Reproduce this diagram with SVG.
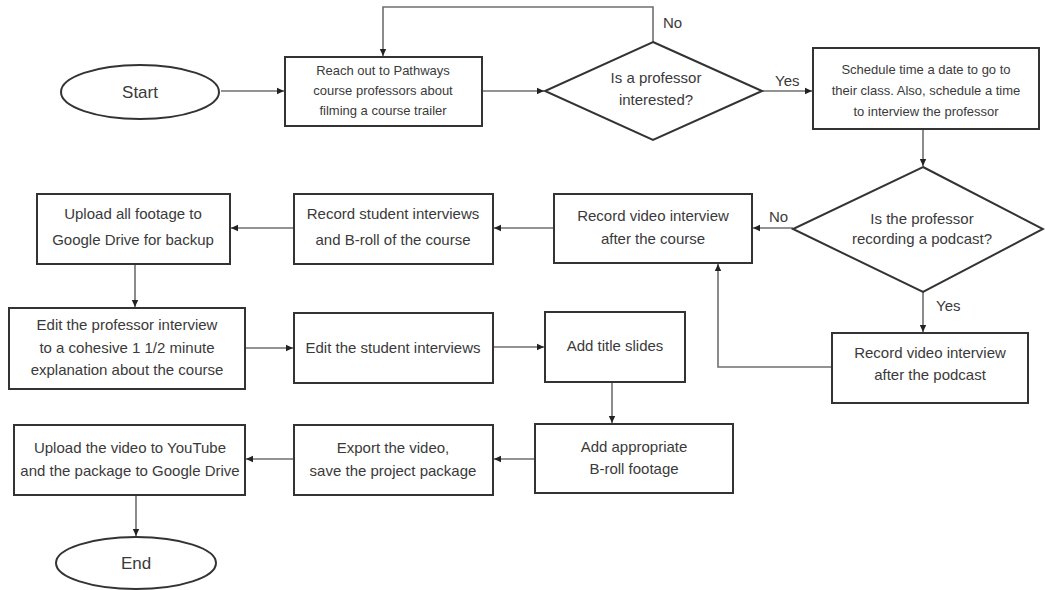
<svg xmlns="http://www.w3.org/2000/svg" width="1045" height="590" viewBox="0 0 1045 590">
<style>
.box{fill:#fff;stroke:#333;stroke-width:2}
.t{font-family:"Liberation Sans",Arial,sans-serif;font-size:15px;fill:#3a3a3a;text-anchor:middle}
.s{font-size:13px}
.lbl{font-family:"Liberation Sans",Arial,sans-serif;font-size:15px;fill:#3a3a3a}
.c{fill:none;stroke:#6f6f6f;stroke-width:1.6;marker-end:url(#ah)}
</style>
<defs>
<marker id="ah" markerUnits="userSpaceOnUse" markerWidth="8" markerHeight="8" refX="7" refY="4" orient="auto">
<path d="M0,0.8 L7,4 L0,7.2 Z" fill="#222"/>
</marker>
</defs>
<rect width="1045" height="590" fill="#fff"/>
<g id="connectors">
<path class="c" d="M221,91 H284"/>
<path class="c" d="M482,91 H544"/>
<path class="c" d="M762,91 H812"/>
<path class="c" d="M653,42 V7 H383 V56"/>
<path class="c" d="M923,129 V166"/>
<path class="c" d="M793,228 H753"/>
<path class="c" d="M923,292 V332"/>
<path class="c" d="M832,367 H718 V264"/>
<path class="c" d="M554,228 H494"/>
<path class="c" d="M294,228 H231"/>
<path class="c" d="M135,264 V307"/>
<path class="c" d="M245,348 H293"/>
<path class="c" d="M493,347 H544"/>
<path class="c" d="M612,382 V423"/>
<path class="c" d="M535,459 H494"/>
<path class="c" d="M294,459 H246"/>
<path class="c" d="M136,495 V536"/>
<text class="lbl" x="663" y="28">No</text>
<text class="lbl" x="775" y="86">Yes</text>
<text class="lbl" x="769" y="222">No</text>
<text class="lbl" x="936" y="311">Yes</text>
</g>
<g id="start">
<ellipse class="box" cx="140" cy="92" rx="79" ry="27"/>
<text class="t" x="140" y="98" style="font-size:17px">Start</text>
</g>
<g id="reach">
<rect class="box" x="285" y="57" width="197" height="69"/>
<text class="t s" x="383" y="74.5">Reach out to Pathways</text>
<text class="t s" x="383" y="94.5">course professors about</text>
<text class="t s" x="383" y="114.5">filming a course trailer</text>
</g>
<g id="decision1">
<polygon class="box" points="653,42 762,91 653,140 545,91"/>
<text class="t" x="656" y="83">Is a professor</text>
<text class="t" x="656" y="105">interested?</text>
</g>
<g id="schedule">
<rect class="box" x="813" y="48" width="226" height="81"/>
<text class="t s" x="926" y="73.5">Schedule time a date to go to</text>
<text class="t s" x="926" y="94.5">their class. Also, schedule a time</text>
<text class="t s" x="926" y="115.5">to interview the professor</text>
</g>
<g id="decision2">
<polygon class="box" points="923,167 1043,229 923,292 793,229"/>
<text class="t" x="922" y="223.5">Is the professor</text>
<text class="t" x="922" y="243.5">recording a podcast?</text>
</g>
<g id="after-course">
<rect class="box" x="554" y="194" width="198" height="69"/>
<text class="t" x="653" y="221">Record video interview</text>
<text class="t" x="653" y="244">after the course</text>
</g>
<g id="after-podcast">
<rect class="box" x="832" y="333" width="196" height="70"/>
<text class="t" x="930" y="358">Record video interview</text>
<text class="t" x="930" y="380">after the podcast</text>
</g>
<g id="student">
<rect class="box" x="294" y="194" width="199" height="70"/>
<text class="t" x="393" y="219">Record student interviews</text>
<text class="t" x="393" y="245">and B-roll of the course</text>
</g>
<g id="upload-footage">
<rect class="box" x="37" y="194" width="193" height="70"/>
<text class="t" x="133" y="219">Upload all footage to</text>
<text class="t" x="133" y="245">Google Drive for backup</text>
</g>
<g id="edit-prof">
<rect class="box" x="9" y="308" width="236" height="81"/>
<text class="t" x="127" y="330">Edit the professor interview</text>
<text class="t" x="127" y="353">to a cohesive 1 1/2 minute</text>
<text class="t" x="127" y="375">explanation about the course</text>
</g>
<g id="edit-student">
<rect class="box" x="294" y="313" width="199" height="70"/>
<text class="t" x="393" y="353">Edit the student interviews</text>
</g>
<g id="title-slides">
<rect class="box" x="545" y="312" width="140" height="70"/>
<text class="t" x="615" y="351">Add title slides</text>
</g>
<g id="broll">
<rect class="box" x="535" y="424" width="198" height="69"/>
<text class="t" x="634" y="452">Add appropriate</text>
<text class="t" x="634" y="474">B-roll footage</text>
</g>
<g id="export">
<rect class="box" x="294" y="425" width="199" height="70"/>
<text class="t" x="393" y="453">Export the video,</text>
<text class="t" x="393" y="476">save the project package</text>
</g>
<g id="upload-video">
<rect class="box" x="14" y="425" width="231" height="70"/>
<text class="t" x="130" y="453">Upload the video to YouTube</text>
<text class="t" x="130" y="476">and the package to Google Drive</text>
</g>
<g id="end">
<ellipse class="box" cx="136" cy="563" rx="80" ry="26"/>
<text class="t" x="136" y="569" style="font-size:17px">End</text>
</g>
</svg>
